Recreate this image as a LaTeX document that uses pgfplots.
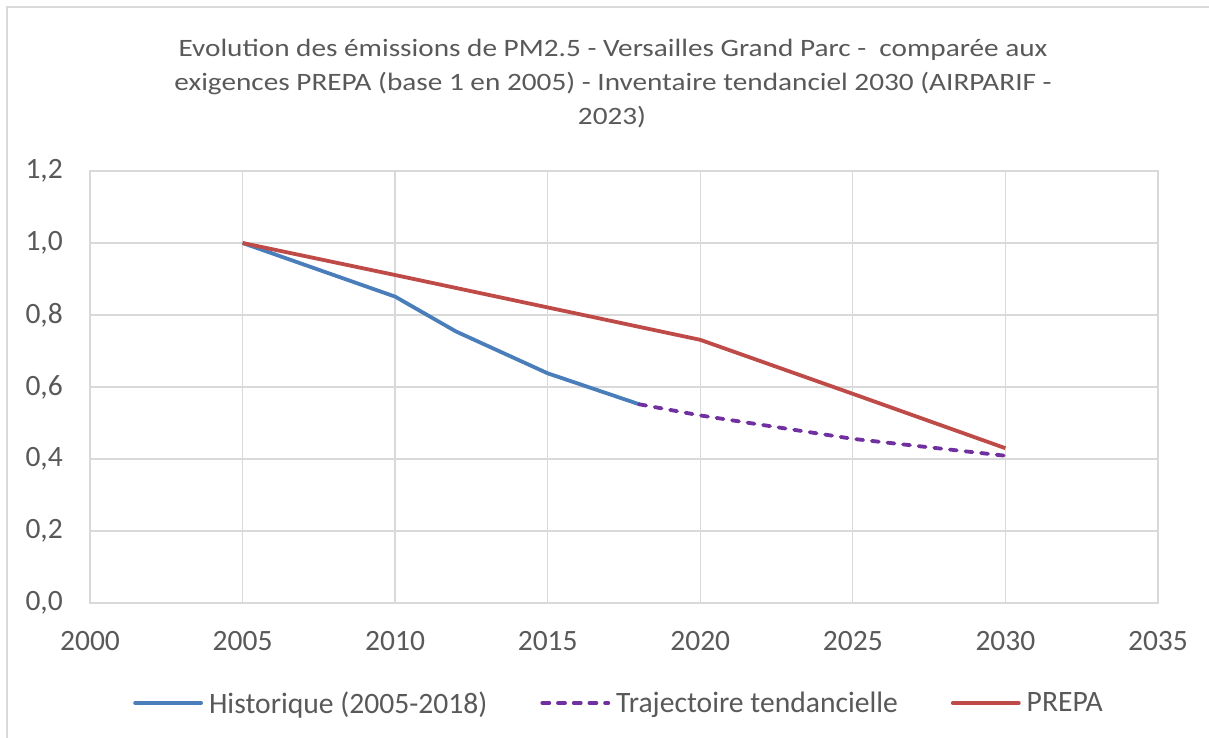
\documentclass[border=0pt]{standalone}
\usepackage{pgfplots}
\pgfplotsset{compat=1.18}
\usepackage{fontspec}
\setmainfont{Carlito}
\newfontfamily\titlefont[FakeStretch=1.17]{Carlito}
\definecolor{txt}{HTML}{595959}
\definecolor{grd}{HTML}{D9D9D9}
\definecolor{cblue}{HTML}{4A7EBB}
\definecolor{cred}{HTML}{BE4B48}
\definecolor{cpurple}{HTML}{7030A0}

\begin{document}
\begin{tikzpicture}[x=1pt,y=1pt]
\useasboundingbox (0,0) rectangle (1209,738);
\draw[grd, line width=1.3pt] (7,-5) rectangle (1216,731);
\begin{scope}[every node/.style={anchor=base, text=txt, font=\titlefont\fontsize{25}{30}\selectfont, inner sep=0pt}]
\node at (613,681.3) {Evolution des émissions de PM2.5 - Versailles Grand Parc -\ \ comparée aux};
\node at (613,647.3) {exigences PREPA (base 1 en 2005) - Inventaire tendanciel 2030 (AIRPARIF -};
\node at (612,613.3) {2023)};
\end{scope}
\begin{axis}[
  at={(90pt,135pt)}, anchor=south west, scale only axis,
  width=1068pt, height=432pt,
  xmin=2000, xmax=2035, ymin=0, ymax=1.2,
  xtick={2000,2005,2010,2015,2020,2025,2030,2035},
  ytick={0,0.2,0.4,0.6,0.8,1.0,1.2},
  grid=major,
  major grid style={grd, line width=1.3pt},
  axis line style={grd, line width=1.3pt},
  tick style={draw=none},
  /pgf/number format/assume math mode=true,
  ticklabel style={font=\fontsize{29.5}{34}\selectfont, text=txt, inner sep=0pt},
  xticklabel shift=28pt,
  yticklabel shift=27pt,
  xticklabel style={/pgf/number format/1000 sep={}},
  yticklabel style={/pgf/number format/.cd, fixed, fixed zerofill, precision=1, use comma},
  legend columns=3,
  legend style={at={(axis description cs:0.0403,-0.2315)}, anchor=west, draw=none, inner sep=0pt,
    font=\fontsize{29.6}{34}\selectfont, text=txt,
    nodes={inner xsep=6pt, inner ysep=0pt},
    /tikz/every even column/.append style={column sep=47pt}},
  legend cell align=left,
  legend image code/.code={\draw[#1, line cap=round] (0pt,0pt) -- (66pt,0pt);},
]
\addplot[cblue, line width=3.8pt, line join=round] coordinates {
 (2005,1.0) (2010,0.851) (2012,0.754) (2015,0.638) (2018,0.552)};
\addlegendentry{Historique (2005-2018)}
\addplot[cpurple, line width=3.8pt, line join=round, line cap=round, dash pattern=on 7pt off 8.7pt] coordinates {
 (2018,0.552) (2020,0.521) (2025,0.456) (2030,0.409)};
\addlegendentry{Trajectoire tendancielle}
\addplot[cred, line width=3.8pt, line join=round] coordinates {
 (2005,1.0) (2010,0.911) (2015,0.821) (2020,0.731) (2025,0.581) (2030,0.430)};
\addlegendentry{PREPA}
\end{axis}
\end{tikzpicture}
\end{document}
